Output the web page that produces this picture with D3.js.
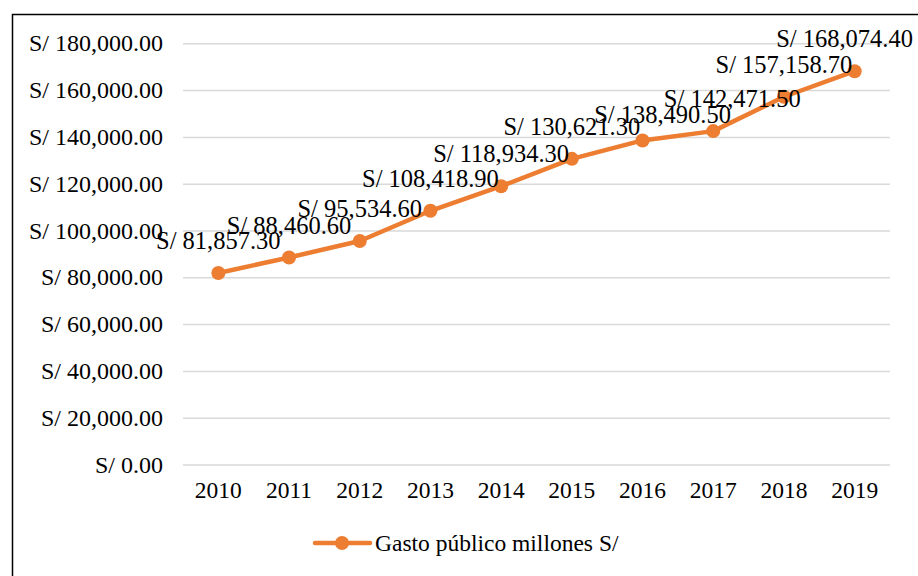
<!DOCTYPE html>
<html><head><meta charset="utf-8">
<script src="https://cdn.jsdelivr.net/npm/d3@7"></script>
<style>body{margin:0;background:#fff}svg{display:block}</style>
</head><body><svg id="c" width="918" height="576" font-family="'Liberation Serif', 'DejaVu Serif', 'Times New Roman', serif"></svg>
<script>
const years = ["2010","2011","2012","2013","2014","2015","2016","2017","2018","2019"];
const gasto = [81857.3, 88460.6, 95534.6, 108418.9, 118934.3, 130621.3, 138490.5, 142471.5, 157158.7, 168074.4];
const yTicks = [0,20000,40000,60000,80000,100000,120000,140000,160000,180000];
const seriesName = "Gasto público millones S/";

const FONT = "'Liberation Serif', 'DejaVu Serif', 'Times New Roman', serif";
const svg = d3.select("#c");
const orange = "#ED7D31";
svg.append("rect").attr("x",12.5).attr("y",14.5).attr("width",930).attr("height",600)
  .attr("fill","none").attr("stroke","#000").attr("stroke-width",1.5);

const x = d3.scaleBand().domain(years).range([183,890]);
const y = d3.scaleLinear().domain([0,180000]).range([464.5,43.3]);
const fmt = v => "S/ " + d3.format(",.2f")(v);

const ga = svg.append("g").attr("transform","translate(183,0)")
  .call(d3.axisLeft(y).tickValues(yTicks).tickSize(-707).tickFormat(fmt).tickPadding(20));
ga.attr("font-family",FONT).attr("font-size",null);
ga.select(".domain").remove();
ga.selectAll(".tick line").attr("stroke","#d9d9d9").attr("stroke-width",1.5);
ga.selectAll(".tick text").attr("font-size",24).attr("font-family",FONT).attr("fill","#000").attr("dy","0.32em");

const gx = svg.append("g").attr("transform","translate(0,464.5)")
  .call(d3.axisBottom(x).tickSize(0).tickPadding(26));
gx.attr("font-family",FONT).attr("font-size",null);
gx.select(".domain").remove();
gx.selectAll(".tick text").attr("font-size",23.5).attr("font-family",FONT).attr("fill","#000").attr("dy","0.32em");

const pts = years.map((yr,i)=>({yr, v:gasto[i]}));
const line = d3.line().x(d=>x(d.yr)+x.bandwidth()/2).y(d=>y(d.v));
svg.append("path").datum(pts).attr("d",line).attr("fill","none")
  .attr("stroke",orange).attr("stroke-width",4.5).attr("stroke-linejoin","round");
svg.selectAll("circle.pt").data(pts).join("circle").attr("class","pt")
  .attr("cx",d=>x(d.yr)+x.bandwidth()/2).attr("cy",d=>y(d.v)).attr("r",7).attr("fill",orange);

// manual label nudges as in the reference (Excel-moved labels)
const nudge = {"2016":[20,7], "2017":[19,0]};
svg.selectAll("text.lbl").data(pts).join("text").attr("class","lbl")
  .attr("font-size",24.5).attr("font-family",FONT).attr("fill","#000").attr("text-anchor","middle")
  .attr("x",d=>x(d.yr)+x.bandwidth()/2 + (nudge[d.yr]?nudge[d.yr][0]:0))
  .attr("y",d=>y(d.v)-24 + (nudge[d.yr]?nudge[d.yr][1]:0))
  .text(d=>fmt(d.v))
  .each(function(){
    const w = this.getComputedTextLength();
    const cx = +this.getAttribute("x");
    if (cx + w/2 > 913) this.setAttribute("x", 913 - w/2);
  });

const lg = svg.append("g");
lg.append("line").attr("x1",315).attr("x2",370).attr("y1",543).attr("y2",543)
  .attr("stroke",orange).attr("stroke-width",4.5).attr("stroke-linecap","round");
lg.append("circle").attr("cx",342).attr("cy",543).attr("r",7).attr("fill",orange);
lg.append("text").attr("x",375).attr("y",543).attr("dy","0.32em").attr("font-size",23.5)
  .attr("font-family",FONT).attr("fill","#000").text(seriesName);
</script></body></html>
